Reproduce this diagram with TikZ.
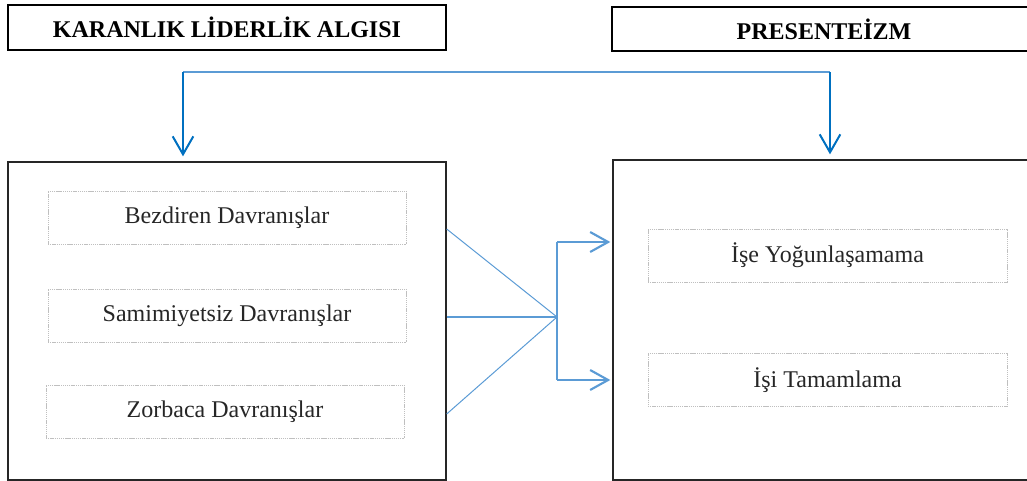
\documentclass[tikz,border=0pt]{standalone}
\usepackage{fontspec}
\setmainfont{Liberation Serif}
\definecolor{LinkBlue}{RGB}{91,155,213}
\definecolor{DropBlue}{RGB}{0,112,192}
\definecolor{DotGray}{RGB}{191,191,191}
\definecolor{InkGray}{RGB}{38,38,38}
\usepackage{tikz}
\usetikzlibrary{
    arrows.meta,
    positioning,
    calc,
}

\begin{document}
\begin{tikzpicture}[
        x=0.75pt, y=-0.75pt,
        headbox/.style={rectangle, draw=black, line width=0.9pt, font=\bfseries\fontsize{18}{22}\selectfont},
        frame/.style={rectangle, draw=black!85, line width=1pt},
        factor/.style={rectangle, draw=DotGray, line width=0.75pt, dash pattern=on 1pt off 0.6pt, minimum height=39.75pt, text=InkGray, font=\fontsize{18}{22}\selectfont},
        drop/.style={-{Straight Barb[length=13.5pt, width=15.5pt, line width=1.5pt]}, line width=1.9pt, DropBlue, shorten >=3.75pt},
        feed/.style={-{Straight Barb[length=13.5pt, width=15pt, line width=1.6pt]}, line width=1.5pt, LinkBlue, shorten >=1.5pt},
    ]
        \useasboundingbox (0,0) rectangle (1027,481);
        % headings
        \node[headbox, minimum width=328.5pt, minimum height=33.75pt] (dark) at (227,27.5) {KARANLIK LİDERLİK ALGISI};
        \node[headbox, minimum width=321pt, minimum height=33pt] (pres) at (826,29) {};
        \node[font=\bfseries\fontsize{18}{22}\selectfont] (prestext) at (824,29) {PRESENTEİZM};
        % main frames
        \node[frame, minimum width=328.5pt, minimum height=238.5pt] (left) at (227,321) {};
        \node[frame, minimum width=320.25pt, minimum height=240pt] (right) at (826.5,320) {};
        % dimensions
        \node[factor, minimum width=268.5pt] (bez) at (227,217.5) {Bezdiren Davranışlar};
        \node[factor, minimum width=268.5pt] (sam) at (227,315.5) {Samimiyetsiz Davranışlar};
        \node[factor, minimum width=268.5pt] (zor) at (225,411.5) {Zorbaca Davranışlar};
        \node[factor, minimum width=269.25pt] (ise) at (827.5,255.5) {İşe Yoğunlaşamama};
        \node[factor, minimum width=269.25pt] (isi) at (827.5,380) {İşi Tamamlama};
        % top link
        \coordinate (tl) at (183,72);
        \coordinate (tr) at (830,72);
        \draw[LinkBlue, line width=1.5pt] (tl) -- (tr);
        \draw[drop] (tl) -- (tl |- left.north);
        \draw[drop] (tr) -- (tr |- right.north);
        % fan-in
        \coordinate (hub) at (557,317);
        \coordinate (up) at (557,242);
        \coordinate (dn) at (557,380);
        \draw[LinkBlue, line width=0.75pt] (left.north east |- 0,229) -- (hub);
        \draw[LinkBlue, line width=1.5pt] (left.north east |- hub) -- (hub);
        \draw[LinkBlue, line width=0.75pt] (left.north east |- 0,414) -- (hub);
        \draw[LinkBlue, line width=1pt] (up) -- (dn);
        \draw[feed] (up) -- (up -| right.west);
        \draw[feed] (dn) -- (dn -| right.west);
    \end{tikzpicture}
\end{document}
